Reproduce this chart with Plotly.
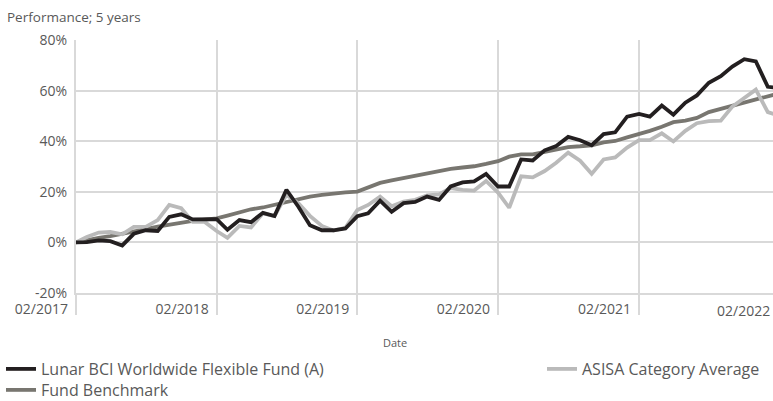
import pandas as pd
import plotly.graph_objects as go

dates = pd.date_range("2017-02-01", periods=61, freq="MS").strftime("%Y-%m-%d").tolist()

fund = [0, 0.1, 0.8, 0.5, -1.2, 3.4, 4.8, 4.5, 10.1, 11.1, 9.1, 9.1,
        9.2, 5.0, 8.8, 8.0, 11.7, 10.4, 20.8, 14.1, 6.8, 4.8, 4.8, 5.5,
        10.4, 11.5, 16.5, 12.1, 15.5, 16.0, 18.1, 16.8, 22.1, 23.7, 24.1, 27.1,
        22.1, 22.1, 32.8, 32.4, 36.4, 38.1, 41.7, 40.4, 38.4, 42.8, 43.5, 49.7,
        50.8, 49.7, 54.1, 50.5, 55.2, 58.1, 63.1, 65.7, 69.5, 72.4, 71.5, 61.5, 61.0]

asisa = [0, 2.1, 3.9, 4.1, 3.2, 6.1, 6.1, 8.8, 14.8, 13.5, 8.1, 8.1,
         4.5, 1.8, 6.5, 5.9, 11.5, 10.4, 18.8, 15.5, 10.5, 6.5, 4.7, 5.8,
         12.8, 14.8, 18.1, 14.3, 16.1, 16.8, 18.6, 19.0, 21.5, 20.8, 20.5, 24.3,
         19.7, 13.7, 26.1, 25.7, 28.2, 31.5, 35.5, 32.3, 27.1, 32.8, 33.6, 37.5,
         40.4, 40.4, 43.1, 39.9, 44.1, 47.1, 47.9, 48.1, 53.7, 57.2, 60.4, 51.5, 50.0]

benchmark = [0, 1.0, 1.8, 2.5, 3.3, 4.2, 5.2, 6.2, 7.0, 7.8, 8.5, 9.0,
             9.5, 10.6, 12.0, 13.1, 13.8, 14.8, 16.1, 17.2, 18.1, 18.8, 19.4, 19.8,
             20.1, 21.8, 23.5, 24.5, 25.5, 26.5, 27.5, 28.3, 29.1, 29.6, 30.1, 31.0,
             32.1, 33.9, 34.8, 34.8, 35.7, 36.5, 37.7, 38.0, 38.4, 39.5, 40.1, 41.5,
             42.8, 44.1, 45.7, 47.5, 48.1, 49.2, 51.5, 52.8, 54.1, 55.5, 56.8, 58.1, 59.0]

tick_dates = ["2017-02-01", "2018-02-01", "2019-02-01", "2020-02-01", "2021-02-01"]
tick_text = ["02/2017", "02/2018", "02/2019", "02/2020", "02/2021"]
last_tick_text = "02/2022"
y_ticks = [-20, 0, 20, 40, 60, 80]
y_text = ["-20%", "0%", "20%", "40%", "60%", "80%"]

names = ["Lunar BCI Worldwide Flexible Fund (A)", "ASISA Category Average", "Fund Benchmark"]

FONT = "Open Sans, Noto Sans, sans-serif"
TXT = "#595959"
GRID = "#d9d9d9"
LEG_FONT = 16

fig = go.Figure()
fig.add_trace(go.Scatter(x=dates, y=benchmark, mode="lines", name=names[2],
                         line=dict(color="#787670", width=3.8), legend="legend3"))
fig.add_trace(go.Scatter(x=dates, y=asisa, mode="lines", name=names[1],
                         line=dict(color="#bababa", width=3.8), legend="legend2"))
fig.add_trace(go.Scatter(x=dates, y=fund, mode="lines", name=names[0],
                         line=dict(color="#231f20", width=3.8), legend="legend"))


def leg(px_x, px_top):
    return dict(x=(px_x - 76) / 697, xanchor="left", y=(293 - px_top) / 253, yanchor="top",
                orientation="v", font=dict(size=LEG_FONT, color=TXT),
                bgcolor="rgba(0,0,0,0)", itemwidth=30)


fig.update_layout(
    width=773, height=401,
    margin=dict(l=76, r=0, t=40, b=108, autoexpand=False),
    paper_bgcolor="white", plot_bgcolor="white",
    font=dict(family=FONT, color=TXT),
    showlegend=True,
    legend=leg(1, 352),
    legend2=leg(542, 352),
    legend3=leg(1, 373),
    title=dict(text="Performance; 5 years", x=7 / 773, xanchor="left", xref="container",
               y=1 - 17 / 401, yref="container", yanchor="middle",
               font=dict(size=13.5, color=TXT)),
    xaxis=dict(type="date", range=["2017-02-01", "2022-01-14 12:00"], automargin=False,
               tickmode="array", tickvals=tick_dates, ticktext=tick_text,
               showgrid=True, gridcolor=GRID, gridwidth=2,
               showline=True, linecolor=GRID, linewidth=2,
               ticks="outside", ticklen=20, tickwidth=2, tickcolor=GRID,
               ticklabelposition="outside left", ticklabelstandoff=2, ticklabelshift=-6,
               tickfont=dict(size=14, color=TXT), zeroline=False),
    yaxis=dict(range=[-20, 80], automargin=False, tickmode="array", tickvals=y_ticks,
               ticktext=y_text, showgrid=True, gridcolor=GRID, gridwidth=2, zeroline=False,
               showline=True, linecolor=GRID, linewidth=2,
               tickfont=dict(size=14, color=TXT), ticks="", ticklabelstandoff=4),
)
# axis title "Date" and the 02/2022 label (its tick lies just past the visible edge)
fig.add_annotation(text="Date", x=(395 - 76) / 697, xref="paper", xanchor="center",
                   y=(293 - 342) / 253, yref="paper", yanchor="middle", showarrow=False,
                   font=dict(size=11, color=TXT, family=FONT))
fig.add_annotation(text=last_tick_text, x=1.0, xref="paper", xanchor="right",
                   y=-17 / 253, yref="paper", yanchor="middle", showarrow=False,
                   font=dict(size=14, color=TXT, family=FONT), xshift=-1)

fig.write_html("out.html", config={"displayModeBar": False},
               post_script="document.body.style.margin='0px';")
